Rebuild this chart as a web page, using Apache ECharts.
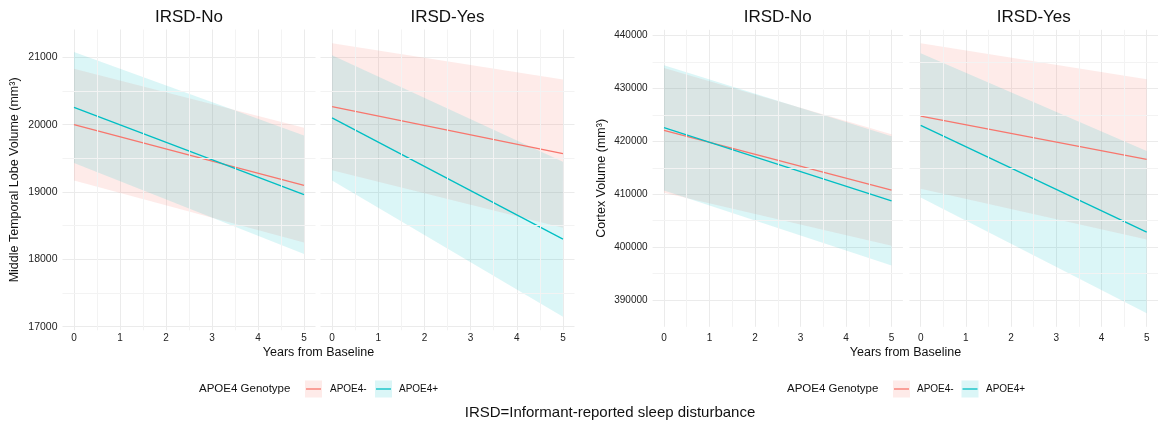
<!DOCTYPE html>
<html>
<head>
<meta charset="utf-8">
<script src="https://cdn.jsdelivr.net/npm/echarts@6/dist/echarts.min.js"></script>
<style>
  html, body { margin: 0; padding: 0; background: #fff; }
  #main { width: 1158px; height: 428px; }
</style>
</head>
<body>
<div id="main"></div>
<script>
// years from baseline
var years = [0, 5];

// middle temporal lobe volume (mm3) - fit, lower CI, upper CI
var mtlNoNegFit = [20000, 19100];
var mtlNoNegLo = [19170, 18250];
var mtlNoNegHi = [20830, 19955];
var mtlNoPosFit = [20256, 18960];
var mtlNoPosLo = [19430, 18080];
var mtlNoPosHi = [21080, 19840];
var mtlYesNegFit = [20267, 19570];
var mtlYesNegLo = [19324, 18470];
var mtlYesNegHi = [21210, 20670];
var mtlYesPosFit = [20100, 18300];
var mtlYesPosLo = [19170, 17150];
var mtlYesPosHi = [21030, 19450];

// cortex volume (mm3)
var ctxNoNegFit = [422100, 410800];
var ctxNoNegLo = [410300, 400270];
var ctxNoNegHi = [433900, 421330];
var ctxNoPosFit = [422600, 408730];
var ctxNoPosLo = [410700, 396500];
var ctxNoPosHi = [434400, 420960];
var ctxYesNegFit = [424790, 416600];
var ctxYesNegLo = [411020, 401460];
var ctxYesNegHi = [438560, 431740];
var ctxYesPosFit = [423030, 402840];
var ctxYesPosLo = [409390, 387480];
var ctxYesPosHi = [436670, 418200];

// minor grid values
var minorYears = [0.5, 1.5, 2.5, 3.5, 4.5];
var mtlMinor = [17500, 18500, 19500, 20500];
var ctxMinor = [395000, 405000, 415000, 425000, 435000];

var FONT = 'Liberation Sans, Arial, sans-serif';
var RED = '#F8766D';
var CYAN = '#00BFC4';
var RED_FILL = 'rgba(248,118,109,0.15)';
var CYAN_FILL = 'rgba(0,191,196,0.14)';

var chart = echarts.init(document.getElementById('main'));

function pairs(xs, ys) {
  return xs.map(function (x, i) { return [x, ys[i]]; });
}

function ribbon(g, lo, hi, fill) {
  return {
    type: 'custom',
    xAxisIndex: g,
    yAxisIndex: g,
    silent: true,
    z: 2,
    data: years.map(function (x, i) { return [x, lo[i], hi[i]]; }),
    encode: { x: 0, y: [1, 2] },
    renderItem: function (params, api) {
      var i = params.dataIndexInside;
      if (i >= params.dataInsideLength - 1) return null;
      var a0 = api.coord([api.value(0, i), api.value(2, i)]);
      var a1 = api.coord([api.value(0, i + 1), api.value(2, i + 1)]);
      var b1 = api.coord([api.value(0, i + 1), api.value(1, i + 1)]);
      var b0 = api.coord([api.value(0, i), api.value(1, i)]);
      return { type: 'polygon', shape: { points: [a0, a1, b1, b0] }, style: { fill: fill } };
    }
  };
}

function fitLine(g, name, fit, color) {
  return {
    type: 'line',
    name: name,
    xAxisIndex: g,
    yAxisIndex: g,
    data: pairs(years, fit),
    symbol: 'none',
    z: 4,
    lineStyle: { color: color, width: 1.3 }
  };
}

// invisible helper that carries the minor grid lines
function minorGrid(g, fit, minorY) {
  var marks = minorYears.map(function (v) { return { xAxis: v }; })
    .concat(minorY.map(function (v) { return { yAxis: v }; }));
  return {
    type: 'line',
    xAxisIndex: g,
    yAxisIndex: g,
    data: pairs(years, fit),
    symbol: 'none',
    silent: true,
    z: 1,
    lineStyle: { opacity: 0 },
    markLine: {
      silent: true,
      symbol: ['none', 'none'],
      label: { show: false },
      lineStyle: { color: '#f3f3f3', width: 1, type: 'solid' },
      data: marks
    }
  };
}

function plain(v) { return String(v); }

function xAxisFor(g, margin) {
  return {
    type: 'value', gridIndex: g, min: -0.25, max: 5.25, splitNumber: 5,
    axisLine: { show: false }, axisTick: { show: false },
    axisLabel: { showMinLabel: false, showMaxLabel: false, margin: margin,
      color: '#222', fontSize: 10, fontFamily: FONT, formatter: plain },
    splitLine: { show: true, showMinLine: false, showMaxLine: false,
      lineStyle: { color: '#ebebeb', width: 1 } }
  };
}

function yAxisFor(g, min, max, showLabels, name, gap, fs) {
  return {
    type: 'value', gridIndex: g, min: min, max: max, splitNumber: 5,
    axisLine: { show: false }, axisTick: { show: false },
    name: name, nameLocation: 'middle', nameGap: gap,
    nameTextStyle: { color: '#111', fontSize: 12.5, fontFamily: FONT },
    axisLabel: { show: showLabels, showMinLabel: false, showMaxLabel: false, margin: 5,
      color: '#222', fontSize: fs, fontFamily: FONT, formatter: plain },
    splitLine: { show: true, showMinLine: false, showMaxLine: false,
      lineStyle: { color: '#ebebeb', width: 1 } }
  };
}

function text(x, y, str, size, align) {
  return {
    type: 'text', x: x, y: y, silent: true,
    style: { text: str, fill: '#111', font: size + 'px ' + FONT,
      textAlign: align || 'center', textVerticalAlign: 'middle' }
  };
}

function legendKey(x, y, fill, color) {
  return [
    { type: 'rect', silent: true, shape: { x: x, y: y - 8.5, width: 17, height: 17 }, style: { fill: fill } },
    { type: 'line', silent: true, shape: { x1: x + 1, y1: y, x2: x + 16, y2: y }, style: { stroke: color, lineWidth: 1.3 } }
  ];
}

var option = {
  animation: false,
  grid: [
    { left: 62.5, width: 253, top: 29.5, height: 300.8 },
    { left: 320.5, width: 254, top: 29.5, height: 300.8 },
    { left: 652.6, width: 250.3, top: 29.8, height: 297 },
    { left: 909.4, width: 248.9, top: 29.8, height: 297 }
  ],
  xAxis: [xAxisFor(0, 3), xAxisFor(1, 3), xAxisFor(2, 6), xAxisFor(3, 6)],
  yAxis: [
    yAxisFor(0, 16947, 21413, true, 'Middle Temporal Lobe Volume (mm³)', 41, 10.5),
    yAxisFor(1, 16947, 21413, false, '', 0, 10.5),
    yAxisFor(2, 384926, 441114, true, 'Cortex Volume (mm³)', 45, 10),
    yAxisFor(3, 384926, 441114, false, '', 0, 10)
  ],
  series: [
    minorGrid(0, mtlNoNegFit, mtlMinor),
    minorGrid(1, mtlYesNegFit, mtlMinor),
    minorGrid(2, ctxNoNegFit, ctxMinor),
    minorGrid(3, ctxYesNegFit, ctxMinor),

    ribbon(0, mtlNoNegLo, mtlNoNegHi, RED_FILL),
    ribbon(0, mtlNoPosLo, mtlNoPosHi, CYAN_FILL),
    fitLine(0, 'APOE4-', mtlNoNegFit, RED),
    fitLine(0, 'APOE4+', mtlNoPosFit, CYAN),

    ribbon(1, mtlYesNegLo, mtlYesNegHi, RED_FILL),
    ribbon(1, mtlYesPosLo, mtlYesPosHi, CYAN_FILL),
    fitLine(1, 'APOE4-', mtlYesNegFit, RED),
    fitLine(1, 'APOE4+', mtlYesPosFit, CYAN),

    ribbon(2, ctxNoNegLo, ctxNoNegHi, RED_FILL),
    ribbon(2, ctxNoPosLo, ctxNoPosHi, CYAN_FILL),
    fitLine(2, 'APOE4-', ctxNoNegFit, RED),
    fitLine(2, 'APOE4+', ctxNoPosFit, CYAN),

    ribbon(3, ctxYesNegLo, ctxYesNegHi, RED_FILL),
    ribbon(3, ctxYesPosLo, ctxYesPosHi, CYAN_FILL),
    fitLine(3, 'APOE4-', ctxYesNegFit, RED),
    fitLine(3, 'APOE4+', ctxYesPosFit, CYAN)
  ],
  graphic: [
    text(189, 17.5, 'IRSD-No', 17),
    text(447.5, 17.5, 'IRSD-Yes', 17),
    text(777.7, 17.5, 'IRSD-No', 17),
    text(1033.8, 17.5, 'IRSD-Yes', 17),
    text(318.5, 353, 'Years from Baseline', 12.5),
    text(905.5, 353, 'Years from Baseline', 12.5),

    text(199, 389, 'APOE4 Genotype', 11.5, 'left'),
    text(330, 389, 'APOE4-', 10, 'left'),
    text(399, 389, 'APOE4+', 10, 'left'),
    text(787, 389, 'APOE4 Genotype', 11.5, 'left'),
    text(917, 389, 'APOE4-', 10, 'left'),
    text(986, 389, 'APOE4+', 10, 'left'),

    text(610, 413, 'IRSD=Informant-reported sleep disturbance', 15)
  ].concat(
    legendKey(305, 389, RED_FILL, RED),
    legendKey(375, 389, CYAN_FILL, CYAN),
    legendKey(893, 389, RED_FILL, RED),
    legendKey(961.5, 389, CYAN_FILL, CYAN)
  )
};

chart.setOption(option);
</script>
</body>
</html>
